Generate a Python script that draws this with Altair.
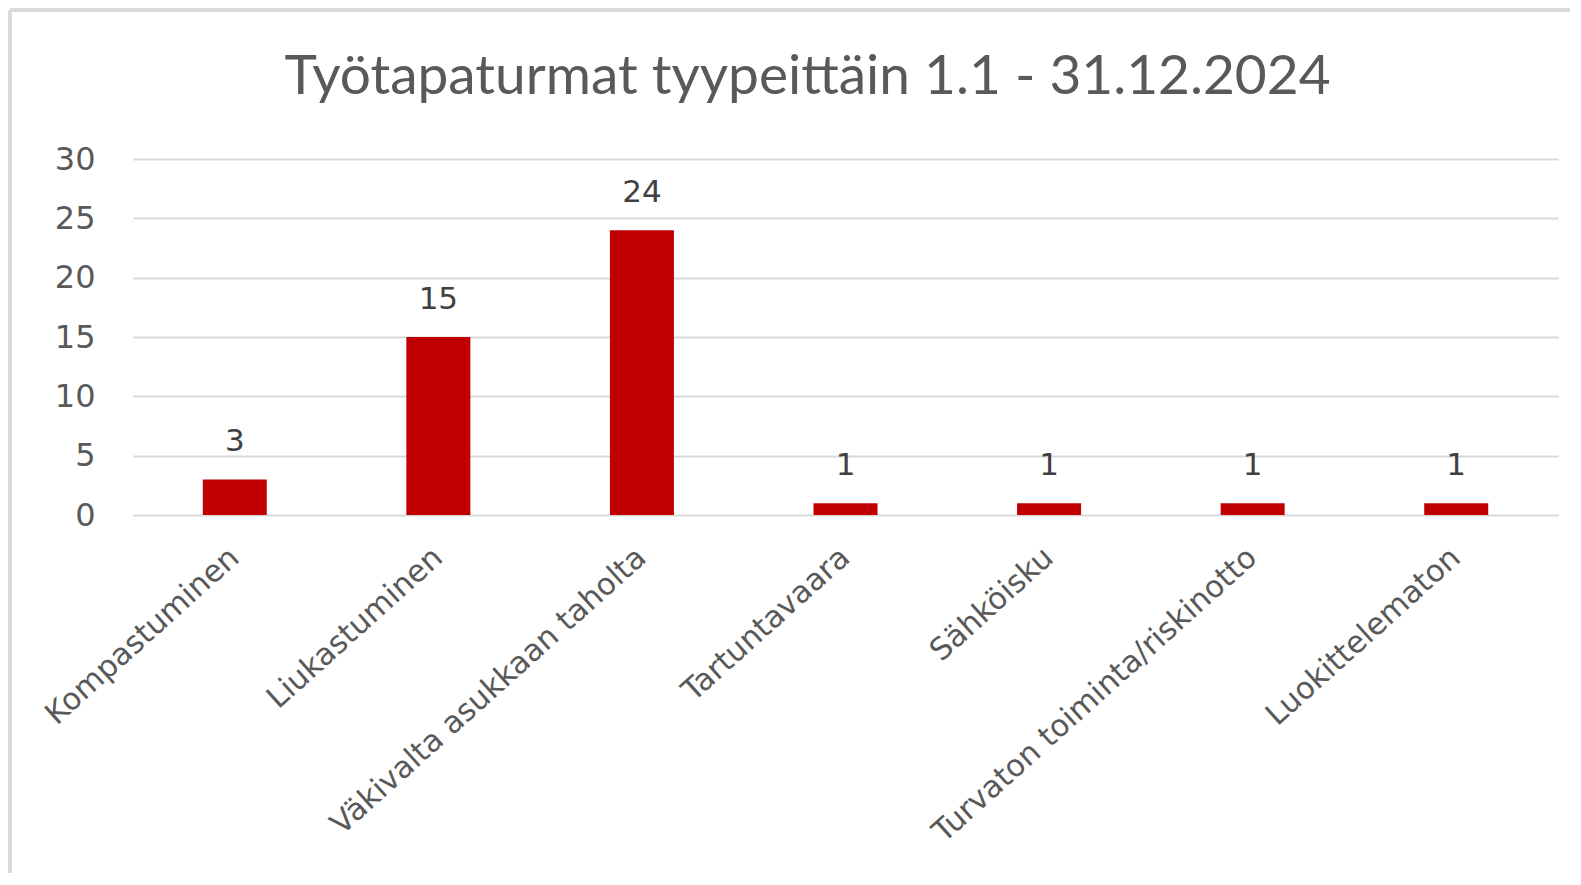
import altair as alt
import pandas as pd

categories = [
    "Kompastuminen",
    "Liukastuminen",
    "Väkivalta asukkaan taholta",
    "Tartuntavaara",
    "Sähköisku",
    "Turvaton toiminta/riskinotto",
    "Luokittelematon",
]
values = [3, 15, 24, 1, 1, 1, 1]
y_ticks = [0, 5, 10, 15, 20, 25, 30]
title_text = "Työtapaturmat tyypeittäin 1.1 - 31.12.2024"

df = pd.DataFrame({"cat": categories, "val": values})

W, H = 1425, 356
PAD_L, PAD_T = 125, 151
PAD_R, PAD_B = 12, 358
FONT = "DejaVu Sans"

x_enc = alt.X(
    "cat:N",
    sort=categories,
    title=None,
    scale=alt.Scale(paddingInner=0, paddingOuter=0),
    axis=alt.Axis(
        labelAngle=-42,
        labelAlign="right",
        labelBaseline="middle",
        labelFont=FONT,
        labelFontSize=30.5,
        labelColor="#595959",
        labelPadding=38,
        ticks=False,
        domain=False,
        grid=False,
        labelLimit=0,
        labelOverlap=False,
    ),
)

y_enc = alt.Y(
    "val:Q",
    title=None,
    scale=alt.Scale(domain=[0, 30], nice=False),
    axis=alt.Axis(
        values=y_ticks,
        grid=True,
        gridColor="#d9d9d9",
        gridWidth=2,
        ticks=False,
        domain=False,
        labelFont=FONT,
        labelFontSize=32,
        labelColor="#595959",
        labelPadding=38,
    ),
)

base = alt.Chart(df)

bars = base.mark_bar(color="#C00000", size=64).encode(x=x_enc, y=y_enc)

labels = base.mark_text(
    font=FONT,
    fontSize=31,
    color="#404040",
    baseline="alphabetic",
    dy=-28,
).encode(x=alt.X("cat:N", sort=categories), y=alt.Y("val:Q"), text="val:Q")

# outer chart frame (left and top edges), positions relative to plot origin
FT = -PAD_T + 2
FL = -PAD_L + 2
frame_left = alt.Chart(pd.DataFrame({"a": [0]})).mark_rule(
    color="#d9d9d9", strokeWidth=4
).encode(x=alt.value(FL), y=alt.value(FT), y2=alt.value(H + PAD_B))
frame_top = alt.Chart(pd.DataFrame({"a": [0]})).mark_rule(
    color="#d9d9d9", strokeWidth=4
).encode(y=alt.value(FT), x=alt.value(FL), x2=alt.value(W + PAD_R))

chart = (
    alt.layer(frame_left, frame_top, bars, labels)
    .properties(
        width=W,
        height=H,
        background="white",
        padding={"left": PAD_L, "top": PAD_T, "right": PAD_R, "bottom": PAD_B},
        autosize=alt.AutoSizeParams(type="none"),
        title=alt.TitleParams(
            text=title_text,
            font="Lato",
            fontSize=55,
            fontWeight="normal",
            color="#595959",
            anchor="middle",
            offset=-98,
            dx=-38,
        ),
    )
    .configure_view(stroke="transparent", strokeWidth=0)
)

chart.save("out.html", embed_options={"renderer": "svg", "actions": False})
